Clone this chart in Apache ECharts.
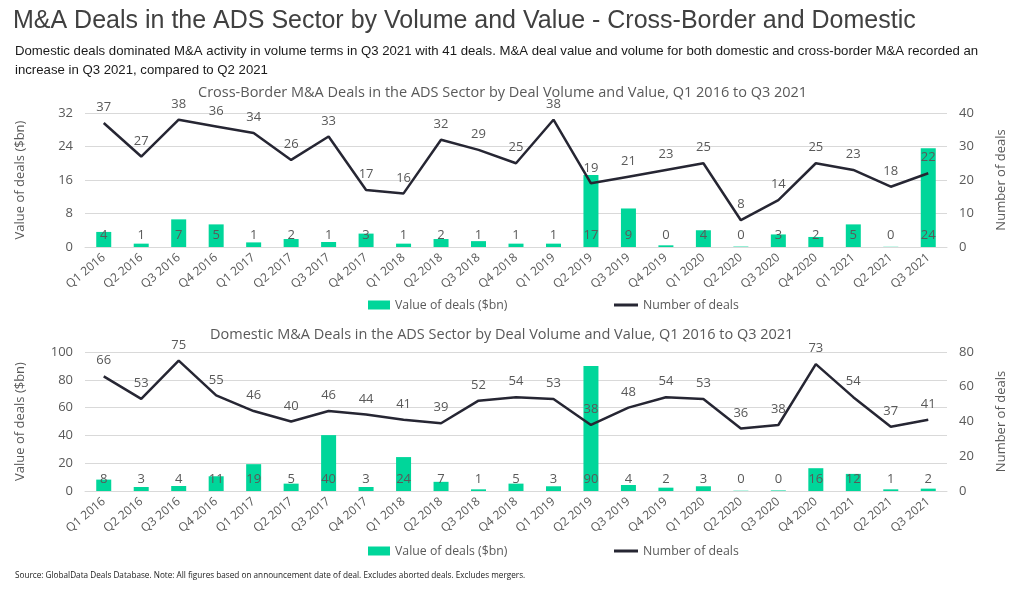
<!DOCTYPE html>
<html>
<head>
<meta charset="utf-8">
<script src="https://cdn.jsdelivr.net/npm/echarts@6/dist/echarts.min.js"></script>
<style>
html,body{margin:0;padding:0;background:#fff;}
#c{width:1024px;height:591px;}
</style>
</head>
<body>
<div id="c"></div>
<script>
const categories = ['Q1 2016','Q2 2016','Q3 2016','Q4 2016','Q1 2017','Q2 2017','Q3 2017','Q4 2017','Q1 2018','Q2 2018','Q3 2018','Q4 2018','Q1 2019','Q2 2019','Q3 2019','Q4 2019','Q1 2020','Q2 2020','Q3 2020','Q4 2020','Q1 2021','Q2 2021','Q3 2021'];
const crossValue = [3.6,0.8,6.6,5.4,1.1,1.9,1.2,3.2,0.8,1.9,1.4,0.8,0.8,17.2,9.2,0.4,4.0,0.1,3.0,2.4,5.4,0.05,23.6];
const crossDeals = [37,27,38,36,34,26,33,17,16,32,29,25,38,19,21,23,25,8,14,25,23,18,22];
const domValue = [8.2,2.9,3.6,10.6,19.3,5.3,40.2,2.9,24.4,6.6,1.2,5.3,3.4,90,4.3,2.4,3.4,0.2,0.4,16.4,12.3,1.2,1.7];
const domDeals = [66,53,75,55,46,40,46,44,41,39,52,54,53,38,48,54,53,36,38,73,54,37,41];

const mainTitle = 'M&A Deals in the ADS Sector by Volume and Value - Cross-Border and Domestic';
const subTitle = 'Domestic deals dominated M&A activity in volume terms in Q3 2021 with 41 deals. M&A deal value and volume for both domestic and cross-border M&A recorded an\nincrease in Q3 2021, compared to Q2 2021';
const crossTitle = 'Cross-Border M&A Deals in the ADS Sector by Deal Volume and Value, Q1 2016 to Q3 2021';
const domTitle = 'Domestic M&A Deals in the ADS Sector by Deal Volume and Value, Q1 2016 to Q3 2021';
const sourceText = 'Source: GlobalData Deals Database. Note: All figures based on announcement date of deal. Excludes aborted deals. Excludes mergers.';
const barName = 'Value of deals ($bn)';
const lineName = 'Number of deals';

const headFont = '"Liberation Sans", Arial, sans-serif';
const chartFont = '"Open Sans", "Noto Sans", sans-serif';
const gray = '#595959';
const barColor = '#00d69a';
const lineColor = '#262633';

const chart = echarts.init(document.getElementById('c'), null, {renderer:'canvas'});

function xAxis(gi){
  return {
    type:'category', gridIndex:gi, data:categories,
    axisTick:{show:false},
    axisLine:{show:true, lineStyle:{color:'#d9d9d9'}},
    axisLabel:{rotate:40, color:gray, fontFamily:chartFont, fontSize:12, interval:0, margin:9}
  };
}
function yAxis(gi, pos, max, interval, name, gap, split){
  return {
    type:'value', gridIndex:gi, position:pos, min:0, max:max, interval:interval,
    name:name, nameLocation:'middle', nameGap:gap,
    nameTextStyle:{color:gray, fontFamily:chartFont, fontSize:13},
    axisLine:{show:false}, axisTick:{show:false},
    axisLabel:{color:gray, fontFamily:chartFont, fontSize:13, margin:12},
    splitLine:{show:split, lineStyle:{color:'#d9d9d9'}}
  };
}
const barLabel = {show:true, position:'insideBottom', distance:5, color:gray, fontFamily:chartFont, fontSize:13, formatter:p=>Math.round(p.value)};
const lineLabel = {show:true, position:'top', distance:9, color:gray, fontFamily:chartFont, fontSize:13};
const legText = {color:gray, fontFamily:chartFont, fontSize:12.3};

chart.setOption({
  animation:false,
  title:[
    {text:mainTitle, left:8, top:4, textStyle:{fontFamily:headFont, fontSize:25, fontWeight:'normal', color:'#404040'}},
    {text:subTitle, left:10, top:37, textStyle:{fontFamily:headFont, fontSize:13.2, fontWeight:'normal', color:'#1a1a1a', lineHeight:19}},
    {text:crossTitle, left:193, top:80, textStyle:{fontFamily:chartFont, fontSize:14.5, fontWeight:'normal', color:gray}},
    {text:domTitle, left:205, top:322, textStyle:{fontFamily:chartFont, fontSize:14.5, fontWeight:'normal', color:gray}},
    {text:sourceText, left:10, top:567, textStyle:{fontFamily:chartFont, fontSize:8.2, fontWeight:'normal', color:'#1a1a1a'}}
  ],
  legend:[
    {left:368, top:299, padding:0, itemWidth:22, itemHeight:9, data:[{name:barName, icon:'rect'}], textStyle:legText},
    {left:614, top:299, padding:0, itemWidth:24, itemHeight:3, data:[{name:lineName, icon:'rect'}], itemStyle:{color:lineColor}, textStyle:legText},
    {left:368, top:545, padding:0, itemWidth:22, itemHeight:9, data:[{name:barName, icon:'rect'}], textStyle:legText},
    {left:614, top:545, padding:0, itemWidth:24, itemHeight:3, data:[{name:lineName, icon:'rect'}], itemStyle:{color:lineColor}, textStyle:legText}
  ],
  grid:[
    {left:85, right:77, top:113, height:134},
    {left:85, right:77, top:352, height:139}
  ],
  xAxis:[xAxis(0), xAxis(1)],
  yAxis:[
    yAxis(0,'left',32,8,'Value of deals ($bn)',58,true),
    yAxis(0,'right',40,10,'Number of deals',48,false),
    yAxis(1,'left',100,20,'Value of deals ($bn)',58,true),
    yAxis(1,'right',80,20,'Number of deals',48,false)
  ],
  series:[
    {name:barName, type:'bar', xAxisIndex:0, yAxisIndex:0, data:crossValue, barWidth:15, itemStyle:{color:barColor}, label:barLabel},
    {name:lineName, type:'line', xAxisIndex:0, yAxisIndex:1, data:crossDeals, symbol:'circle', symbolSize:0.1, showSymbol:true, lineStyle:{color:lineColor, width:2.5}, itemStyle:{color:lineColor}, label:lineLabel},
    {name:barName, type:'bar', xAxisIndex:1, yAxisIndex:2, data:domValue, barWidth:15, itemStyle:{color:barColor}, label:barLabel},
    {name:lineName, type:'line', xAxisIndex:1, yAxisIndex:3, data:domDeals, symbol:'circle', symbolSize:0.1, showSymbol:true, lineStyle:{color:lineColor, width:2.5}, itemStyle:{color:lineColor}, label:lineLabel}
  ]
});
</script>
</body>
</html>
